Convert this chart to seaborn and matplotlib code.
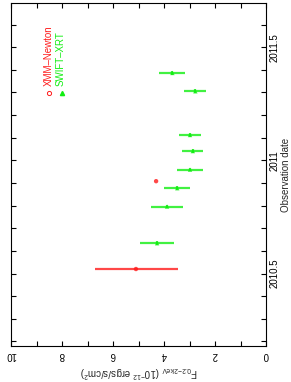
# Flux vs observation date (XMM-Newton and SWIFT-XRT), drawn in rotated layout
import seaborn as sns
import matplotlib.pyplot as plt
import matplotlib.ticker as mticker
import numpy as np
import pandas as pd

# data
xmm_date = [2010.52, 2010.908]
xmm_flux = [5.10, 4.31]
xmm_err_hi = [1.61, 0.0]
xmm_err_lo = [1.64, 0.0]

swift_date = [2010.634, 2010.796, 2010.877, 2010.959, 2011.041, 2011.112, 2011.305, 2011.386]
swift_flux = [4.27, 3.88, 3.48, 2.98, 2.87, 2.98, 2.77, 3.67]
swift_up = [4.94, 4.50, 4.00, 3.50, 3.30, 3.40, 3.20, 4.20]
swift_low = [3.62, 3.27, 2.98, 2.46, 2.46, 2.56, 2.36, 3.16]

flux_ticks = [10, 8, 6, 4, 2, 0]
date_ticks = [2010.5, 2011, 2011.5]
date_labels = ['2010.5', '2011', '2011.5']
missions = ['XMM\u2013Newton', 'SWIFT\u2013XRT']
colors = ['#ff1a1a', '#11ee11']

sns.set_style('ticks')
plt.rcParams['font.family'] = ['Liberation Sans', 'DejaVu Sans']
plt.rcParams['mathtext.default'] = 'regular'

fig = plt.figure(figsize=(2.91, 3.82), dpi=100)
ax = fig.add_axes([11 / 291, 36 / 382, 255 / 291, 343 / 382])

# error bars (flux on horizontal axis)
ax.errorbar(xmm_flux, xmm_date, xerr=[xmm_err_lo, xmm_err_hi], fmt='none',
            ecolor=colors[0], elinewidth=1.6, capsize=0, alpha=0.8)
s_flux = np.array(swift_flux)
ax.errorbar(s_flux, swift_date,
            xerr=[s_flux - np.array(swift_low), np.array(swift_up) - s_flux],
            yerr=0.008, fmt='none', ecolor=colors[1], elinewidth=1.6, capsize=0, alpha=0.8)

df = pd.DataFrame({
    'flux': xmm_flux + swift_flux,
    'date': xmm_date + swift_date,
    'mission': [missions[0]] * len(xmm_flux) + [missions[1]] * len(swift_flux),
})
sns.scatterplot(data=df, x='flux', y='date', hue='mission', style='mission',
                palette=colors, markers=['o', '^'], s=10, linewidth=0,
                alpha=0.8, legend=False, ax=ax)

ax.set_xlim(10, 0)
ax.set_ylim(2010.18, 2011.695)

ax.set_xticks(flux_ticks)
ax.set_xticklabels([str(t) for t in flux_ticks], rotation=180, va='top', ha='center')
ax.xaxis.set_minor_locator(mticker.MultipleLocator(1))

ax.yaxis.tick_right()
ax.yaxis.set_label_position('right')
ax.set_yticks(date_ticks)
ax.set_yticklabels(date_labels, rotation=90, va='center', ha='left')
ax.yaxis.set_minor_locator(mticker.MultipleLocator(0.1))

ax.tick_params(which='both', direction='in', top=True, bottom=True, left=True, right=True,
               length=3.5, width=0.8, labelsize=7, colors='black')
ax.tick_params(axis='x', pad=3)
ax.tick_params(axis='y', pad=2.5)

ax.set_xlabel(r'F$_{0.2\!-\!2 keV}$ (10$^{-12}$ ergs/s/cm$^{2}$)', fontsize=7,
              rotation=180, labelpad=3)
ax.set_ylabel('Observation date', fontsize=7, rotation=90, labelpad=1)

for sp in ax.spines.values():
    sp.set_visible(True)
    sp.set_linewidth(0.8)
    sp.set_color('black')

# hand-made legend, rotated like the rest of the chart
ax.text(0.149, 0.758, missions[0], transform=ax.transAxes, rotation=90,
        ha='center', va='bottom', fontsize=7, color=colors[0])
ax.text(0.196, 0.758, missions[1], transform=ax.transAxes, rotation=90,
        ha='center', va='bottom', fontsize=7, color=colors[1])
ax.plot([0.149], [0.738], marker='o', ms=3, mfc='none', mec=colors[0], mew=0.7,
        transform=ax.transAxes)
ax.plot([0.200], [0.738], marker='^', ms=3, color=colors[1], transform=ax.transAxes)

fig.savefig('out.png', dpi=100)
